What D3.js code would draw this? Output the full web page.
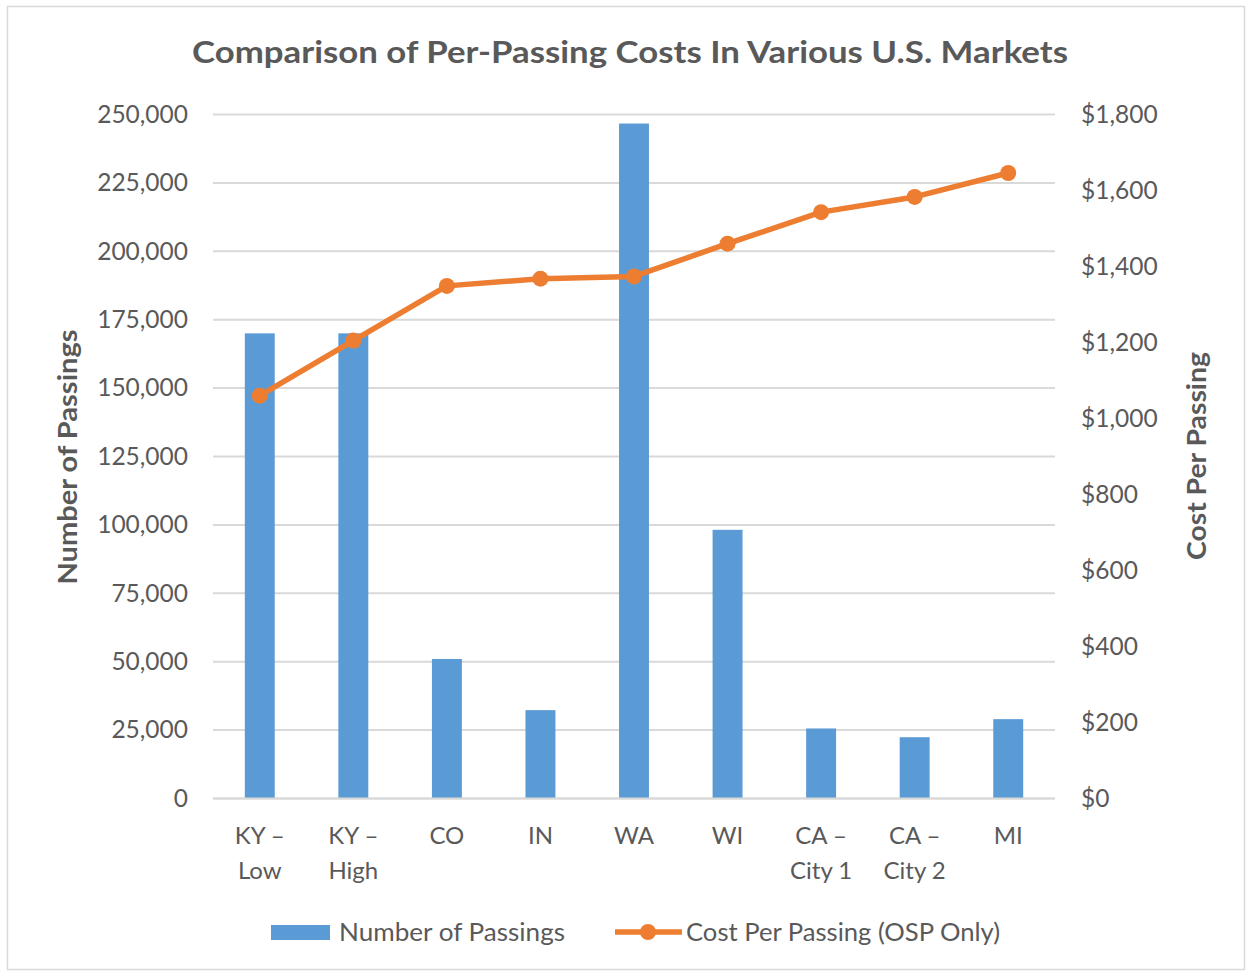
<!DOCTYPE html>
<html>
<head>
<meta charset="utf-8">
<script src="https://cdn.jsdelivr.net/npm/d3@7"></script>
<style>
  body { margin: 0; background: #fff; }
  text { font-family: Lato, "Open Sans", sans-serif; fill: #595959; }
</style>
</head>
<body>
<div id="chart"></div>
<script>
// chart data
var markets = ["KY \u2013|Low", "KY \u2013|High", "CO", "IN", "WA", "WI", "CA \u2013|City 1", "CA \u2013|City 2", "MI"];
var passings = [170000, 170000, 51000, 32300, 246700, 98200, 25600, 22400, 29000];
var costPerPassing = [1060, 1205, 1349, 1368, 1374, 1460, 1543, 1583, 1646];
var leftTicks = [0, 25000, 50000, 75000, 100000, 125000, 150000, 175000, 200000, 225000, 250000];
var rightTicks = [0, 200, 400, 600, 800, 1000, 1200, 1400, 1600, 1800];

var width = 1251, height = 974;
var plot = { left: 213, right: 1055, top: 114.5, bottom: 798.5 };

var svg = d3.select("#chart").append("svg")
    .attr("width", width)
    .attr("height", height);

// outer frame
svg.append("rect")
    .attr("x", 7.5).attr("y", 6.5)
    .attr("width", 1237).attr("height", 963)
    .attr("fill", "#fff")
    .attr("stroke", "#d9d9d9")
    .attr("stroke-width", 1.5);

var x = d3.scaleBand()
    .domain(markets)
    .range([plot.left, plot.right])
    .paddingInner(0.68)
    .paddingOuter(0.34);

var yLeft = d3.scaleLinear().domain([0, 250000]).range([plot.bottom, plot.top]);
var yRight = d3.scaleLinear().domain([0, 1800]).range([plot.bottom, plot.top]);

// gridlines
svg.append("g")
    .selectAll("line")
    .data(leftTicks)
    .enter()
    .append("line")
    .attr("x1", plot.left).attr("x2", plot.right)
    .attr("y1", d => yLeft(d)).attr("y2", d => yLeft(d))
    .attr("stroke", "#d9d9d9")
    .attr("stroke-width", 2);

// left axis
var leftAxis = svg.append("g")
    .attr("transform", `translate(${plot.left - 25},0)`)
    .call(d3.axisLeft(yLeft).tickValues(leftTicks).tickSize(0).tickPadding(0).tickFormat(d3.format(",")));
leftAxis.select(".domain").remove();
leftAxis.selectAll("text")
    .style("font-size", "24.5px")
    .style("fill", "#595959")
    .style("font-family", "Lato, sans-serif");

// right axis
var rightAxis = svg.append("g")
    .attr("transform", `translate(${plot.right + 26},0)`)
    .call(d3.axisRight(yRight).tickValues(rightTicks).tickSize(0).tickPadding(0).tickFormat(d => "$" + d3.format(",")(d)));
rightAxis.select(".domain").remove();
rightAxis.selectAll("text")
    .style("font-size", "24.5px")
    .style("fill", "#595959")
    .style("font-family", "Lato, sans-serif");

// bars
svg.append("g")
    .selectAll("rect")
    .data(markets)
    .enter()
    .append("rect")
    .attr("x", d => x(d))
    .attr("width", x.bandwidth())
    .attr("y", (d, i) => yLeft(passings[i]))
    .attr("height", (d, i) => plot.bottom - yLeft(passings[i]))
    .attr("fill", "#5b9bd5");

// baseline
svg.append("line")
    .attr("x1", plot.left).attr("x2", plot.right)
    .attr("y1", plot.bottom).attr("y2", plot.bottom)
    .attr("stroke", "#d9d9d9")
    .attr("stroke-width", 2);

// category labels
var cx = d => x(d) + x.bandwidth() / 2;
var catLabels = svg.append("g")
    .selectAll("text")
    .data(markets)
    .enter()
    .append("text")
    .attr("text-anchor", "middle")
    .style("font-size", "24px");
catLabels.each(function(d) {
    var parts = d.split("|");
    var t = d3.select(this);
    parts.forEach(function(p, j) {
        t.append("tspan")
            .attr("x", cx(d))
            .attr("y", 844 + j * 35)
            .text(p);
    });
});

// cost line
var line = d3.line()
    .x((d, i) => cx(markets[i]))
    .y(d => yRight(d));

svg.append("path")
    .datum(costPerPassing)
    .attr("d", line)
    .attr("fill", "none")
    .attr("stroke", "#ed7d31")
    .attr("stroke-width", 5.5)
    .attr("stroke-linejoin", "round");

svg.append("g")
    .selectAll("circle")
    .data(costPerPassing)
    .enter()
    .append("circle")
    .attr("cx", (d, i) => cx(markets[i]))
    .attr("cy", d => yRight(d))
    .attr("r", 8)
    .attr("fill", "#ed7d31");

// title
svg.append("text")
    .attr("x", 630)
    .attr("y", 63)
    .attr("text-anchor", "middle")
    .attr("textLength", 876)
    .attr("lengthAdjust", "spacingAndGlyphs")
    .style("font-size", "31px")
    .style("font-weight", "bold")
    .text("Comparison of Per-Passing Costs In Various U.S. Markets");

// axis titles
svg.append("text")
    .attr("transform", "translate(77,457) rotate(-90)")
    .attr("text-anchor", "middle")
    .attr("textLength", 255)
    .attr("lengthAdjust", "spacingAndGlyphs")
    .style("font-size", "27px")
    .style("font-weight", "bold")
    .text("Number of Passings");

svg.append("text")
    .attr("transform", "translate(1206,456) rotate(-90)")
    .attr("text-anchor", "middle")
    .attr("textLength", 208)
    .attr("lengthAdjust", "spacingAndGlyphs")
    .style("font-size", "27px")
    .style("font-weight", "bold")
    .text("Cost Per Passing");

// legend
var legend = svg.append("g").attr("id", "legend");
legend.append("rect")
    .attr("x", 271).attr("y", 925)
    .attr("width", 59).attr("height", 15)
    .attr("fill", "#5b9bd5");
legend.append("text")
    .attr("x", 339).attr("y", 941)
    .attr("textLength", 226)
    .attr("lengthAdjust", "spacingAndGlyphs")
    .style("font-size", "25px")
    .text("Number of Passings");
legend.append("line")
    .attr("x1", 615).attr("x2", 682)
    .attr("y1", 932).attr("y2", 932)
    .attr("stroke", "#ed7d31")
    .attr("stroke-width", 5.5);
legend.append("circle")
    .attr("cx", 648).attr("cy", 932)
    .attr("r", 8)
    .attr("fill", "#ed7d31");
legend.append("text")
    .attr("x", 686).attr("y", 941)
    .attr("textLength", 314)
    .attr("lengthAdjust", "spacingAndGlyphs")
    .style("font-size", "25px")
    .text("Cost Per Passing (OSP Only)");
</script>
</body>
</html>
